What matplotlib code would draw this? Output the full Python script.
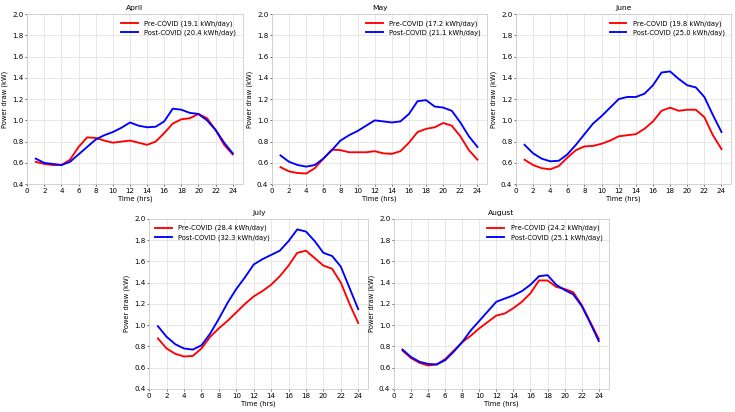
import numpy as np
import matplotlib
matplotlib.use("Agg")
import matplotlib.pyplot as plt

hours = list(range(1, 25))

months = ['April', 'May', 'June', 'July', 'August']
pre_kwh = [19.1, 17.2, 19.8, 28.4, 24.2]
post_kwh = [20.4, 21.1, 25.0, 32.3, 25.1]

april_pre = [0.61, 0.59, 0.58, 0.58, 0.63, 0.75, 0.84, 0.835, 0.81, 0.79, 0.80, 0.81,
             0.79, 0.77, 0.80, 0.88, 0.97, 1.01, 1.02, 1.06, 1.02, 0.91, 0.77, 0.68]
april_post = [0.64, 0.60, 0.59, 0.58, 0.61, 0.68, 0.75, 0.82, 0.86, 0.89, 0.93, 0.98,
              0.95, 0.935, 0.94, 0.99, 1.11, 1.10, 1.07, 1.06, 1.00, 0.91, 0.79, 0.69]
may_pre = [0.56, 0.52, 0.505, 0.50, 0.55, 0.64, 0.725, 0.72, 0.70, 0.70, 0.70, 0.71,
           0.69, 0.685, 0.71, 0.79, 0.89, 0.92, 0.935, 0.975, 0.95, 0.85, 0.72, 0.63]
may_post = [0.67, 0.61, 0.58, 0.565, 0.58, 0.64, 0.72, 0.81, 0.86, 0.90, 0.95, 1.00,
            0.99, 0.98, 0.99, 1.06, 1.18, 1.19, 1.13, 1.12, 1.09, 0.98, 0.85, 0.75]
june_pre = [0.63, 0.58, 0.55, 0.54, 0.57, 0.65, 0.72, 0.755, 0.76, 0.78, 0.81, 0.85,
            0.86, 0.87, 0.92, 0.99, 1.09, 1.12, 1.09, 1.10, 1.10, 1.03, 0.86, 0.73]
june_post = [0.77, 0.69, 0.64, 0.615, 0.62, 0.68, 0.77, 0.87, 0.97, 1.04, 1.12, 1.20,
             1.22, 1.22, 1.25, 1.33, 1.45, 1.46, 1.39, 1.33, 1.31, 1.22, 1.05, 0.89]
july_pre = [0.875, 0.78, 0.73, 0.705, 0.71, 0.78, 0.89, 0.97, 1.04, 1.12, 1.20, 1.27,
            1.32, 1.38, 1.46, 1.56, 1.68, 1.70, 1.63, 1.56, 1.53, 1.40, 1.20, 1.02]
july_post = [0.99, 0.89, 0.82, 0.78, 0.77, 0.81, 0.92, 1.06, 1.21, 1.34, 1.45, 1.57,
             1.62, 1.66, 1.70, 1.79, 1.90, 1.88, 1.79, 1.68, 1.65, 1.55, 1.35, 1.15]
aug_pre = [0.76, 0.69, 0.645, 0.62, 0.63, 0.68, 0.76, 0.84, 0.90, 0.97, 1.03, 1.09,
           1.11, 1.16, 1.22, 1.30, 1.42, 1.42, 1.36, 1.34, 1.31, 1.19, 1.03, 0.87]
aug_post = [0.77, 0.70, 0.655, 0.635, 0.63, 0.67, 0.75, 0.84, 0.95, 1.04, 1.13, 1.22,
            1.25, 1.28, 1.32, 1.38, 1.46, 1.47, 1.38, 1.33, 1.29, 1.18, 1.02, 0.85]

pre_all = [april_pre, may_pre, june_pre, july_pre, aug_pre]
post_all = [april_post, may_post, june_post, july_post, aug_post]

# axes boxes in figure fractions (left, bottom, width, height)
boxes = [
    [0.037, 0.553, 0.293, 0.413],
    [0.370, 0.553, 0.293, 0.413],
    [0.702, 0.553, 0.293, 0.413],
    [0.203, 0.056, 0.298, 0.413],
    [0.536, 0.056, 0.292, 0.413],
]
legend_loc = ['upper right', 'upper right', 'upper right', 'upper left', 'upper right']

fs = 4.9
fig = plt.figure(figsize=(7.35, 4.12), dpi=100)
for i, m in enumerate(months):
    ax = fig.add_axes(boxes[i])
    ax.plot(hours, pre_all[i], color='red', lw=1.35,
            label='Pre-COVID (%.1f kWh/day)' % pre_kwh[i])
    ax.plot(hours, post_all[i], color='blue', lw=1.35,
            label='Post-COVID (%.1f kWh/day)' % post_kwh[i])
    ax.set_xlim(0, 25.15)
    ax.set_ylim(0.4, 2.0)
    ax.set_xticks(np.arange(0, 25, 2))
    ax.set_yticks(np.arange(0.4, 2.01, 0.2))
    ax.set_yticklabels(['%.1f' % v for v in np.arange(0.4, 2.01, 0.2)])
    ax.grid(True, color='#e3e3e3', lw=0.6)
    ax.set_axisbelow(True)
    for s in ax.spines.values():
        s.set_color('#cccccc')
        s.set_linewidth(0.6)
    ax.tick_params(labelsize=fs + 0.2, length=1.6, width=0.6, color='#555555', pad=1)
    ax.set_title(m, fontsize=fs + 0.5, pad=3)
    ax.set_xlabel('Time (hrs)', fontsize=fs, labelpad=1.5)
    ax.set_ylabel('Power draw (kW)', fontsize=fs, labelpad=3)
    ax.legend(loc=legend_loc[i], fontsize=fs, frameon=False, handlelength=2.4,
              handletextpad=1.0, borderaxespad=0.5, labelspacing=0.45)

plt.savefig('out.png', dpi=100)
